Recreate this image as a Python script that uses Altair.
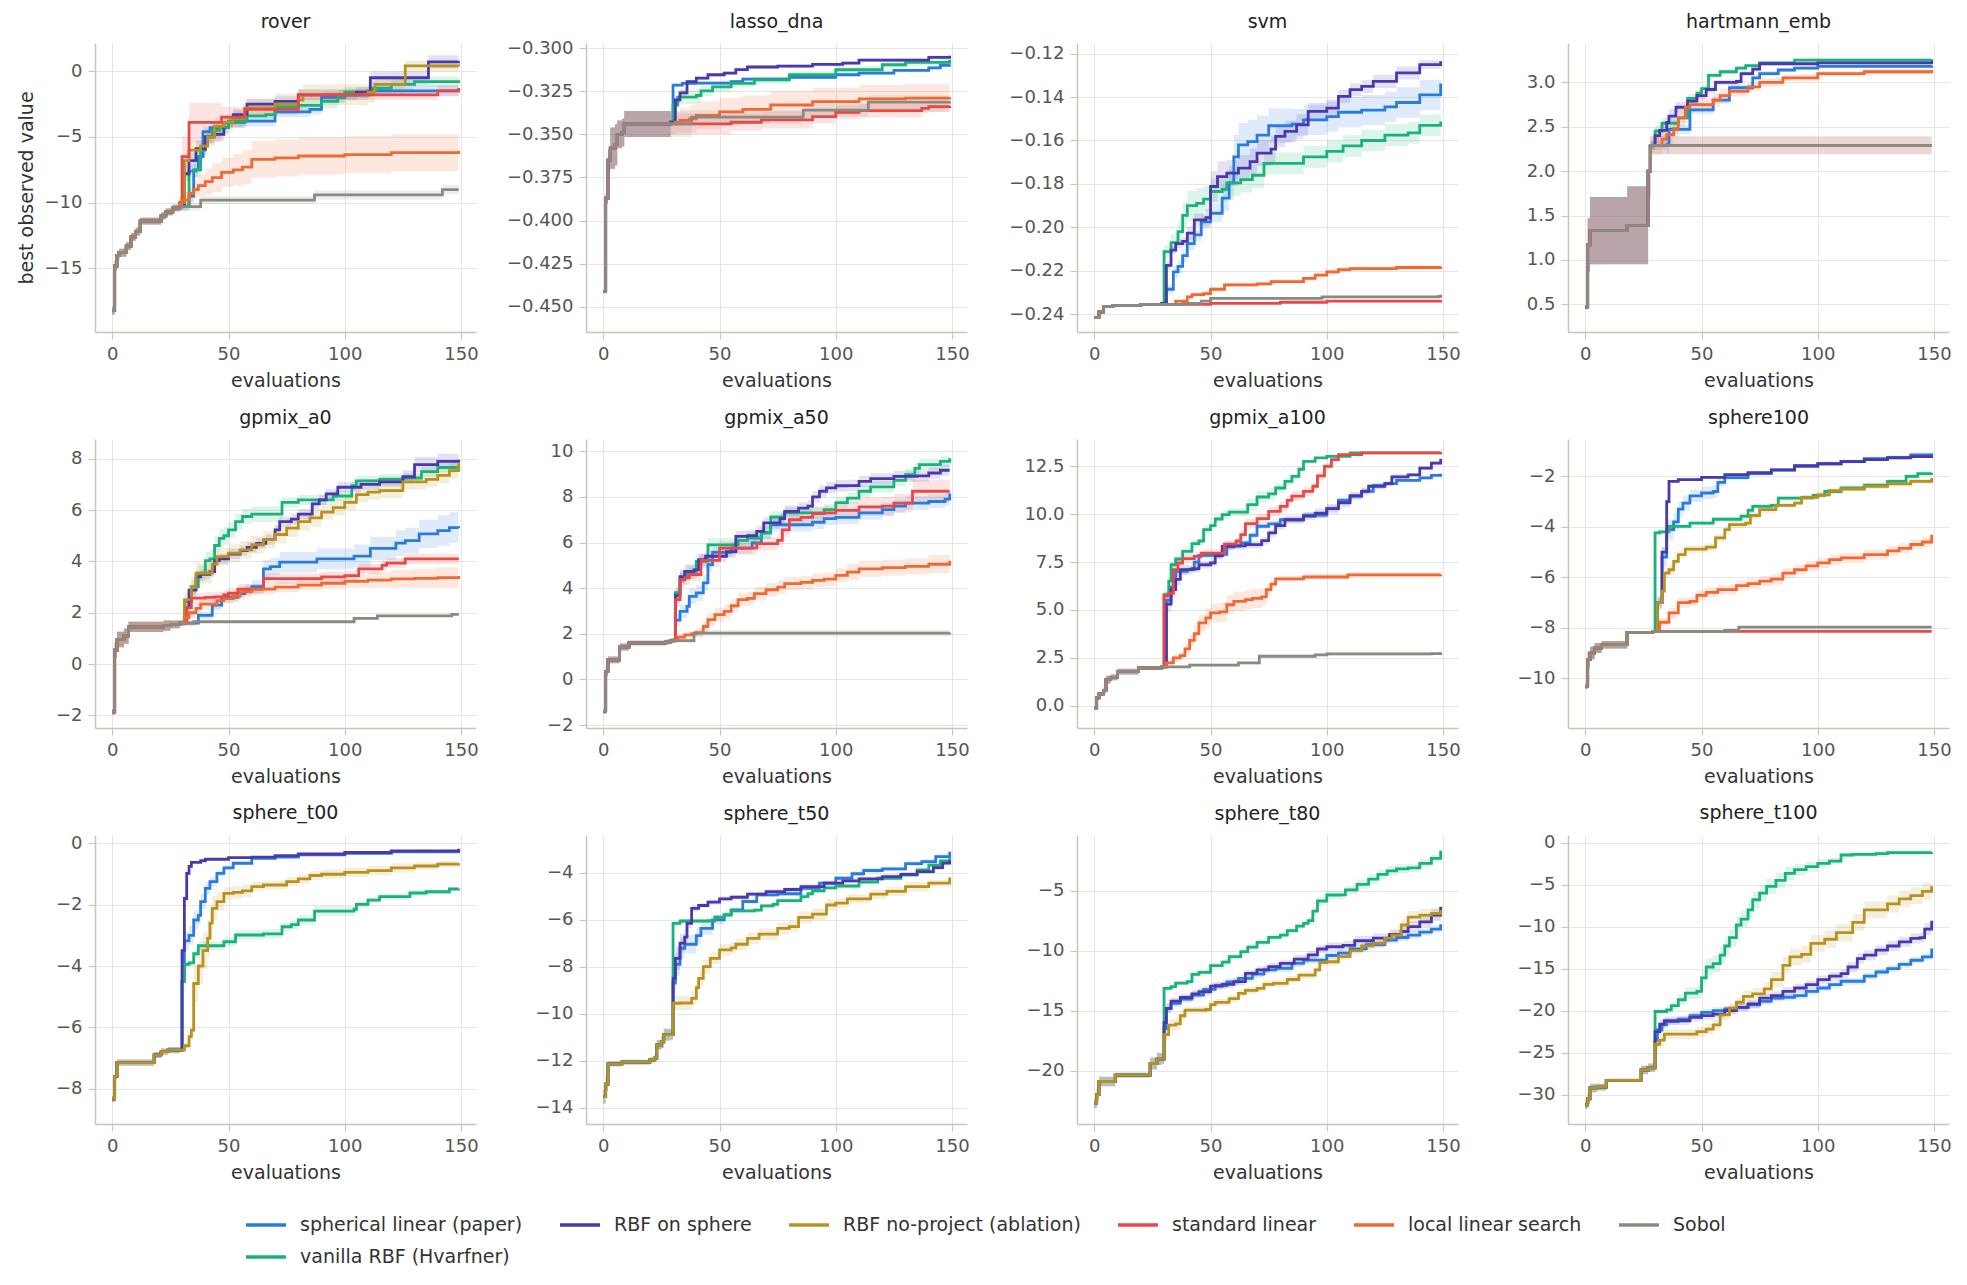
import altair as alt
import pandas as pd

PANELS = ["rover", "lasso_dna", "svm", "hartmann_emb",
          "gpmix_a0", "gpmix_a50", "gpmix_a100", "sphere100",
          "sphere_t00", "sphere_t50", "sphere_t80", "sphere_t100"]

NAMES = {"sph": "spherical linear (paper)", "van": "vanilla RBF (Hvarfner)",
         "rbf": "RBF on sphere", "nop": "RBF no-project (ablation)",
         "std": "standard linear", "loc": "local linear search", "sob": "Sobol"}
PLOT_ORDER = ["sph", "van", "rbf", "nop", "std", "loc", "sob"]
LEGEND_ORDER = ["sph", "rbf", "nop", "std", "loc", "sob", "van"]
COLORS = {"sph": "#2a7bde", "van": "#1ab27a", "rbf": "#4b38ac", "nop": "#b8921e",
          "std": "#e84848", "loc": "#f06832", "sob": "#8a8a84"}

# shared initial design segment per panel: [evaluation, mean, half-band]
INIT = {
    "rover": [[0, -18.2, 0.3], [1, -14.8, 0.4], [2, -14.0, 0.35], [3, -13.8, 0.3], [6, -13.3, 0.3],
              [8, -12.6, 0.3], [10, -12.2, 0.3], [12, -11.4, 0.25], [21, -11.0, 0.25], [23, -10.7, 0.25],
              [26, -10.4, 0.25]],
    "lasso_dna": [[0, -0.441, 0.001], [1, -0.387, 0.003], [2, -0.365, 0.006], [3, -0.358, 0.012],
                  [5, -0.356, 0.012], [6, -0.350, 0.008], [8, -0.349, 0.008], [9, -0.344, 0.0075]],
    "svm": [[0, -0.2415, 0.0005], [2, -0.239, 0.0005], [4, -0.2365, 0.0005], [8, -0.236, 0.0004],
            [20, -0.2355, 0.0004]],
    "hartmann_emb": [[0, 0.47, 0.02], [1, 1.17, 0.3], [2, 1.33, 0.38], [18, 1.39, 0.44], [27, 2.0, 0.3]],
    "gpmix_a0": [[0, -1.86, 0.1], [1, 0.54, 0.3], [2, 0.96, 0.3], [5, 1.09, 0.3], [7, 1.45, 0.2],
                 [22, 1.5, 0.2], [25, 1.55, 0.15]],
    "gpmix_a50": [[0, -1.4, 0.1], [1, 0.35, 0.2], [2, 0.86, 0.15], [7, 1.42, 0.15], [11, 1.6, 0.1],
                  [27, 1.65, 0.1]],
    "gpmix_a100": [[0, -0.12, 0.05], [1, 0.4, 0.1], [2, 0.61, 0.1], [4, 0.8, 0.15], [5, 1.36, 0.2],
                   [7, 1.48, 0.15], [10, 1.78, 0.15], [19, 1.97, 0.1]],
    "sphere100": [[0, -10.32, 0.1], [1, -9.26, 0.3], [2, -9.0, 0.25], [4, -8.8, 0.2], [7, -8.67, 0.15],
                  [18, -8.18, 0.05]],
    "sphere_t00": [[0, -8.34, 0.1], [1, -7.6, 0.1], [2, -7.15, 0.1], [18, -6.9, 0.1], [21, -6.79, 0.1],
                   [24, -6.74, 0.1]],
    "sphere_t50": [[0, -13.53, 0.3], [1, -13.0, 0.3], [2, -12.14, 0.1], [8, -12.07, 0.1], [20, -11.97, 0.1],
                   [22, -11.9, 0.15], [23, -11.33, 0.2], [25, -11.2, 0.25], [26, -10.9, 0.25]],
    "sphere_t80": [[0, -22.7, 0.4], [1, -22.0, 0.5], [2, -20.9, 0.4], [9, -20.36, 0.2], [24, -19.4, 0.5],
                   [27, -19.03, 0.5]],
    "sphere_t100": [[0, -31.2, 0.5], [1, -30.5, 0.6], [2, -29.2, 0.5], [5, -29.1, 0.4], [9, -28.3, 0.2],
                    [24, -27.06, 0.5], [27, -26.8, 0.5]],
}

ROVER = {
    "sob": [[29, -10.3, 0.3], [38, -9.8, 0.3], [87, -9.4, 0.35], [142, -9.0, 0.35], [149, -9.0, 0.35]],
    "loc": [[29, -10.0, 0.4], [30, -9.8, 0.5], [33, -9.3, 0.6], [35, -9.0, 0.7], [37, -8.7, 0.8], [40, -8.4, 1.0],
            [43, -8.1, 1.1], [47, -7.7, 1.1], [52, -7.5, 1.2], [56, -7.3, 1.3], [60, -6.7, 1.4], [70, -6.6, 1.4],
            [80, -6.45, 1.4], [100, -6.35, 1.4], [120, -6.2, 1.4], [149, -6.05, 1.4]],
    "std": [[29, -10.0, 0.5], [30, -6.5, 1.5], [33, -3.9, 1.5], [47, -3.5, 0.8], [57, -2.9, 0.4], [80, -1.8, 0.4],
            [140, -1.5, 0.4], [149, -1.3, 0.4]],
    "sph": [[29, -10.3, 0.3], [33, -9.5, 0.5], [35, -7.5, 0.6], [37, -6.5, 0.5], [39, -4.6, 0.4], [42, -4.3, 0.4],
            [50, -3.9, 0.4], [57, -3.8, 0.4], [70, -3.1, 0.4], [85, -2.9, 0.4], [90, -2.0, 0.4], [100, -1.8, 0.4],
            [110, -1.5, 0.4], [149, -1.3, 0.4]],
    "rbf": [[29, -10.3, 0.3], [31, -7.8, 0.6], [33, -6.8, 0.6], [36, -5.9, 0.6], [40, -5.0, 0.5], [44, -4.8, 0.5],
            [48, -3.9, 0.4], [52, -3.3, 0.4], [58, -2.5, 0.4], [70, -2.3, 0.4], [80, -1.8, 0.4], [105, -1.6, 0.4],
            [111, -0.5, 0.5], [136, 0.7, 0.5], [149, 0.75, 0.5]],
    "nop": [[29, -10.0, 0.4], [31, -6.8, 0.6], [33, -6.0, 0.7], [38, -5.7, 0.7], [41, -5.0, 0.7], [44, -4.2, 0.7],
            [48, -3.9, 0.6], [52, -3.6, 0.6], [57, -2.8, 0.7], [70, -2.5, 0.8], [80, -2.2, 0.8], [82, -1.8, 0.8],
            [110, -1.6, 0.8], [113, -1.0, 0.6], [126, 0.4, 0.4], [149, 0.35, 0.4]],
    "van": [[29, -10.3, 0.3], [33, -7.6, 0.5], [36, -7.5, 0.5], [38, -6.0, 0.6], [40, -5.0, 0.5], [43, -4.5, 0.5],
            [46, -4.3, 0.5], [50, -3.8, 0.4], [58, -3.4, 0.4], [66, -3.3, 0.4], [70, -2.7, 0.5], [80, -2.6, 0.5],
            [90, -2.3, 0.5], [97, -1.9, 0.5], [100, -1.6, 0.4], [112, -1.3, 0.4], [120, -1.0, 0.4], [130, -0.8, 0.4],
            [149, -0.7, 0.4]],
}

LASSO = {
    "sob": [[29, -0.344, 0.0075], [38, -0.340, 0.004], [86, -0.336, 0.004], [114, -0.3313, 0.004],
            [149, -0.331, 0.004]],
    "std": [[29, -0.344, 0.006], [55, -0.343, 0.005], [68, -0.3416, 0.005], [90, -0.3397, 0.004],
            [100, -0.3373, 0.004], [110, -0.3363, 0.004], [137, -0.335, 0.003], [140, -0.334, 0.003],
            [149, -0.3335, 0.003]],
    "loc": [[29, -0.344, 0.006], [31, -0.343, 0.006], [33, -0.342, 0.007], [37, -0.341, 0.008], [40, -0.339, 0.008],
            [50, -0.337, 0.008], [60, -0.3355, 0.008], [72, -0.333, 0.008], [90, -0.331, 0.008],
            [110, -0.3295, 0.008], [130, -0.329, 0.008], [149, -0.3285, 0.008]],
    "sph": [[29, -0.343, 0.001], [30, -0.3215, 0.001], [34, -0.3205, 0.001], [40, -0.3203, 0.001],
            [55, -0.3195, 0.001], [60, -0.318, 0.001], [80, -0.317, 0.001], [100, -0.3155, 0.001],
            [110, -0.3145, 0.001], [125, -0.313, 0.001], [140, -0.3115, 0.001], [145, -0.310, 0.001],
            [149, -0.3095, 0.001]],
    "rbf": [[29, -0.343, 0.001], [31, -0.330, 0.002], [33, -0.326, 0.002], [36, -0.3195, 0.001],
            [40, -0.3175, 0.001], [45, -0.3155, 0.001], [52, -0.3145, 0.001], [57, -0.3125, 0.001],
            [62, -0.311, 0.001], [75, -0.3105, 0.001], [90, -0.3095, 0.001], [103, -0.3087, 0.001],
            [110, -0.307, 0.001], [140, -0.3054, 0.001], [149, -0.3045, 0.001]],
    "van": [[29, -0.343, 0.001], [30, -0.333, 0.004], [32, -0.3285, 0.004], [40, -0.3275, 0.004],
            [42, -0.3248, 0.003], [47, -0.3225, 0.003], [55, -0.3205, 0.002], [65, -0.3185, 0.002],
            [80, -0.3155, 0.002], [100, -0.3126, 0.002], [120, -0.3097, 0.002], [130, -0.3083, 0.002],
            [149, -0.3068, 0.002]],
}

SVM = {
    "std": [[29, -0.2355, 0.0004], [50, -0.235, 0.0004], [80, -0.2345, 0.0004], [100, -0.234, 0.0004],
            [149, -0.2335, 0.0004]],
    "sob": [[29, -0.2355, 0.0004], [38, -0.235, 0.0004], [46, -0.234, 0.0005], [50, -0.2327, 0.0005],
            [98, -0.232, 0.0005], [148, -0.2318, 0.0005], [149, -0.231, 0.0005]],
    "loc": [[29, -0.2355, 0.0005], [35, -0.234, 0.0006], [40, -0.232, 0.0008], [42, -0.231, 0.001],
            [47, -0.2305, 0.001], [50, -0.2285, 0.001], [56, -0.2265, 0.001], [70, -0.226, 0.001],
            [76, -0.225, 0.001], [90, -0.2235, 0.001], [95, -0.222, 0.0012], [100, -0.2205, 0.0012],
            [105, -0.2195, 0.0012], [110, -0.219, 0.001], [130, -0.2185, 0.001], [149, -0.218, 0.001]],
    "van": [[29, -0.235, 0.001], [30, -0.2112, 0.003], [33, -0.207, 0.004], [36, -0.202, 0.005],
            [38, -0.1945, 0.006], [40, -0.190, 0.007], [44, -0.189, 0.007], [47, -0.187, 0.006],
            [50, -0.1835, 0.006], [55, -0.1825, 0.006], [57, -0.1795, 0.006], [63, -0.178, 0.006],
            [68, -0.176, 0.006], [73, -0.1705, 0.005], [80, -0.1705, 0.005], [90, -0.1675, 0.005],
            [100, -0.165, 0.005], [107, -0.1625, 0.005], [115, -0.160, 0.005], [125, -0.1575, 0.005],
            [135, -0.1565, 0.005], [140, -0.153, 0.005], [149, -0.1512, 0.005]],
    "sph": [[29, -0.235, 0.001], [31, -0.2285, 0.002], [34, -0.2205, 0.003], [36, -0.218, 0.003],
            [38, -0.213, 0.003], [40, -0.2075, 0.003], [43, -0.2035, 0.003], [46, -0.1975, 0.003],
            [50, -0.1935, 0.004], [55, -0.1865, 0.006], [58, -0.1795, 0.008], [60, -0.1675, 0.01],
            [62, -0.162, 0.01], [66, -0.1605, 0.01], [70, -0.1575, 0.009], [75, -0.1532, 0.008],
            [85, -0.1525, 0.007], [90, -0.1505, 0.007], [100, -0.149, 0.007], [105, -0.147, 0.007],
            [115, -0.146, 0.007], [125, -0.1445, 0.007], [130, -0.1425, 0.007], [140, -0.139, 0.007],
            [149, -0.1338, 0.007]],
    "rbf": [[29, -0.235, 0.001], [31, -0.2175, 0.002], [33, -0.2105, 0.002], [35, -0.2075, 0.002],
            [38, -0.2065, 0.002], [40, -0.2027, 0.003], [43, -0.1966, 0.003], [48, -0.1955, 0.004],
            [50, -0.1812, 0.007], [53, -0.1766, 0.007], [57, -0.175, 0.006], [62, -0.1727, 0.006],
            [67, -0.1697, 0.006], [70, -0.1658, 0.006], [76, -0.164, 0.006], [78, -0.1581, 0.005],
            [82, -0.1558, 0.005], [87, -0.1528, 0.005], [92, -0.1466, 0.004], [100, -0.1451, 0.004],
            [105, -0.1397, 0.003], [110, -0.1366, 0.003], [115, -0.1351, 0.003], [120, -0.1328, 0.003],
            [130, -0.1289, 0.003], [140, -0.1251, 0.002], [149, -0.1235, 0.002]],
}

HARTMANN = {
    "sob": [[28, 2.29, 0.1], [149, 2.29, 0.1]],
    "std": [[28, 2.29, 0.1], [149, 2.29, 0.1]],
    "loc": [[28, 2.29, 0.1], [33, 2.36, 0.1], [35, 2.41, 0.1], [38, 2.48, 0.1], [40, 2.6, 0.1], [43, 2.72, 0.08],
            [45, 2.75, 0.08], [55, 2.8, 0.08], [58, 2.85, 0.08], [62, 2.9, 0.06], [70, 2.95, 0.05], [75, 3.0, 0.05],
            [85, 3.05, 0.04], [100, 3.1, 0.03], [120, 3.12, 0.03], [149, 3.14, 0.03]],
    "sph": [[28, 2.29, 0.05], [35, 2.3, 0.1], [36, 2.47, 0.05], [45, 2.69, 0.05], [55, 2.8, 0.04], [62, 2.94, 0.04],
            [72, 3.05, 0.03], [75, 3.1, 0.03], [83, 3.14, 0.02], [90, 3.16, 0.02], [100, 3.18, 0.02],
            [149, 3.19, 0.02]],
    "rbf": [[28, 2.29, 0.05], [30, 2.4, 0.08], [32, 2.46, 0.08], [35, 2.55, 0.08], [36, 2.62, 0.08],
            [39, 2.72, 0.06], [44, 2.79, 0.05], [48, 2.85, 0.04], [52, 2.92, 0.04], [56, 3.0, 0.03],
            [65, 3.01, 0.03], [67, 3.1, 0.03], [72, 3.15, 0.03], [75, 3.21, 0.02], [100, 3.22, 0.02],
            [149, 3.24, 0.02]],
    "van": [[28, 2.29, 0.05], [30, 2.45, 0.06], [33, 2.54, 0.06], [40, 2.6, 0.06], [44, 2.82, 0.05],
            [48, 2.88, 0.04], [50, 2.93, 0.04], [53, 3.08, 0.03], [58, 3.12, 0.03], [65, 3.16, 0.03],
            [69, 3.19, 0.02], [75, 3.22, 0.02], [90, 3.25, 0.02], [149, 3.26, 0.02]],
}

GPMIX0 = {
    "sob": [[29, 1.6, 0.1], [35, 1.65, 0.05], [104, 1.78, 0.05], [114, 1.88, 0.05], [146, 1.94, 0.05],
            [149, 1.94, 0.05]],
    "loc": [[29, 1.6, 0.1], [31, 1.8, 0.15], [33, 2.0, 0.2], [36, 2.17, 0.2], [38, 2.34, 0.2], [45, 2.47, 0.2],
            [48, 2.55, 0.2], [52, 2.65, 0.2], [55, 2.82, 0.2], [60, 2.92, 0.2], [70, 3.0, 0.2], [80, 3.08, 0.2],
            [90, 3.15, 0.22], [100, 3.22, 0.25], [110, 3.27, 0.3], [120, 3.32, 0.35], [130, 3.34, 0.38],
            [140, 3.37, 0.4], [149, 3.43, 0.42]],
    "std": [[29, 1.6, 0.1], [32, 2.2, 0.2], [34, 2.57, 0.2], [40, 2.6, 0.2], [44, 2.62, 0.2], [48, 2.7, 0.2],
            [50, 2.76, 0.2], [54, 2.92, 0.2], [65, 3.33, 0.2], [90, 3.4, 0.2], [100, 3.45, 0.2], [106, 3.71, 0.2],
            [116, 3.85, 0.2], [118, 3.93, 0.2], [126, 4.1, 0.2], [149, 4.1, 0.2]],
    "sph": [[29, 1.6, 0.1], [37, 1.9, 0.15], [43, 2.3, 0.2], [47, 2.6, 0.2], [54, 2.75, 0.2], [57, 2.9, 0.2],
            [60, 3.02, 0.25], [65, 3.71, 0.35], [68, 3.8, 0.35], [72, 3.97, 0.4], [88, 4.1, 0.4], [104, 4.21, 0.45],
            [111, 4.51, 0.45], [122, 4.71, 0.5], [126, 4.81, 0.5], [132, 5.07, 0.55], [140, 5.2, 0.6],
            [145, 5.32, 0.6], [149, 5.3, 0.6]],
    "van": [[29, 1.6, 0.1], [31, 2.43, 0.2], [34, 3.02, 0.25], [37, 3.54, 0.3], [40, 4.03, 0.35], [42, 4.1, 0.35],
            [44, 4.62, 0.35], [46, 4.9, 0.35], [48, 5.0, 0.35], [50, 5.23, 0.3], [53, 5.55, 0.3], [56, 5.75, 0.3],
            [60, 5.84, 0.3], [73, 6.3, 0.2], [80, 6.4, 0.2], [95, 6.55, 0.2], [103, 6.95, 0.2], [105, 7.14, 0.2],
            [115, 7.2, 0.2], [125, 7.25, 0.2], [133, 7.5, 0.2], [140, 7.66, 0.2], [149, 7.7, 0.2]],
    "rbf": [[29, 1.6, 0.1], [31, 2.2, 0.2], [33, 2.88, 0.2], [36, 3.4, 0.2], [38, 3.5, 0.2], [42, 3.6, 0.2],
            [44, 4.03, 0.2], [46, 4.1, 0.2], [50, 4.29, 0.2], [55, 4.42, 0.2], [58, 4.55, 0.2], [62, 4.7, 0.2],
            [66, 4.85, 0.2], [70, 5.23, 0.2], [72, 5.55, 0.2], [77, 5.65, 0.2], [80, 5.84, 0.2], [86, 6.24, 0.2],
            [89, 6.4, 0.2], [92, 6.63, 0.2], [97, 6.89, 0.2], [107, 7.0, 0.2], [115, 7.1, 0.2], [125, 7.3, 0.25],
            [130, 7.77, 0.3], [140, 7.9, 0.3], [149, 7.96, 0.3]],
    "nop": [[29, 1.6, 0.1], [31, 2.5, 0.3], [34, 3.0, 0.35], [36, 3.54, 0.4], [40, 3.55, 0.4], [43, 3.9, 0.4],
            [45, 4.19, 0.35], [50, 4.32, 0.35], [55, 4.45, 0.35], [60, 4.65, 0.35], [65, 4.85, 0.35],
            [70, 5.05, 0.35], [75, 5.3, 0.35], [80, 5.55, 0.35], [85, 5.7, 0.35], [90, 5.92, 0.3], [95, 6.1, 0.3],
            [100, 6.3, 0.3], [105, 6.6, 0.3], [110, 6.7, 0.3], [115, 6.76, 0.3], [125, 7.1, 0.3], [135, 7.2, 0.3],
            [140, 7.35, 0.3], [145, 7.54, 0.3], [149, 7.83, 0.3]],
}

GPMIX50 = {
    "sob": [[29, 1.7, 0.1], [39, 2.03, 0.15], [149, 2.05, 0.15]],
    "loc": [[29, 1.7, 0.1], [32, 1.85, 0.15], [35, 1.95, 0.15], [38, 2.0, 0.15], [40, 2.05, 0.2], [43, 2.32, 0.25],
            [45, 2.62, 0.3], [48, 2.84, 0.3], [52, 2.98, 0.3], [55, 3.23, 0.3], [58, 3.5, 0.3], [62, 3.55, 0.3],
            [65, 3.76, 0.3], [70, 3.93, 0.3], [75, 4.05, 0.3], [78, 4.2, 0.3], [85, 4.25, 0.3], [90, 4.34, 0.3],
            [95, 4.4, 0.3], [100, 4.56, 0.3], [105, 4.7, 0.35], [110, 4.85, 0.35], [120, 4.9, 0.35],
            [130, 4.96, 0.35], [140, 5.05, 0.4], [149, 5.2, 0.45]],
    "sph": [[29, 1.7, 0.1], [31, 2.6, 0.3], [33, 2.98, 0.3], [36, 3.2, 0.35], [37, 3.64, 0.35], [40, 3.79, 0.35],
            [43, 4.23, 0.35], [45, 5.03, 0.3], [47, 5.57, 0.25], [55, 5.76, 0.25], [64, 5.98, 0.25],
            [68, 6.45, 0.3], [72, 6.78, 0.3], [90, 6.89, 0.3], [95, 7.05, 0.3], [100, 7.1, 0.3], [110, 7.3, 0.3],
            [120, 7.44, 0.3], [125, 7.6, 0.3], [130, 7.73, 0.3], [140, 7.8, 0.3], [147, 7.9, 0.3],
            [149, 8.15, 0.3]],
    "std": [[29, 1.7, 0.1], [31, 3.5, 0.3], [33, 4.37, 0.3], [35, 4.45, 0.3], [37, 4.6, 0.3], [42, 5.22, 0.3],
            [50, 5.76, 0.3], [66, 5.95, 0.3], [75, 6.1, 0.3], [77, 6.56, 0.3], [80, 7.0, 0.3], [85, 7.1, 0.3],
            [90, 7.27, 0.3], [95, 7.3, 0.3], [100, 7.41, 0.35], [110, 7.56, 0.4], [120, 7.6, 0.4],
            [125, 7.73, 0.4], [133, 8.25, 0.5], [149, 8.25, 0.5]],
    "van": [[29, 1.7, 0.1], [31, 3.8, 0.3], [33, 4.44, 0.3], [36, 4.7, 0.3], [40, 5.18, 0.3], [45, 5.9, 0.3],
            [58, 6.1, 0.25], [62, 6.2, 0.25], [68, 6.42, 0.25], [72, 7.12, 0.25], [78, 7.3, 0.25], [90, 7.3, 0.25],
            [95, 7.44, 0.25], [100, 7.75, 0.25], [105, 7.95, 0.25], [110, 8.25, 0.25], [115, 8.44, 0.25],
            [125, 8.73, 0.25], [130, 8.98, 0.25], [134, 9.25, 0.25], [136, 9.42, 0.25], [145, 9.56, 0.25],
            [149, 9.7, 0.25]],
    "rbf": [[29, 1.7, 0.1], [31, 3.67, 0.3], [33, 4.5, 0.3], [35, 4.74, 0.3], [39, 4.8, 0.3], [41, 5.25, 0.25],
            [44, 5.4, 0.25], [53, 5.6, 0.25], [57, 6.27, 0.25], [62, 6.3, 0.25], [66, 6.49, 0.25],
            [69, 6.86, 0.25], [76, 7.05, 0.25], [78, 7.37, 0.25], [84, 7.51, 0.25], [88, 7.6, 0.25],
            [90, 8.0, 0.25], [93, 8.25, 0.25], [96, 8.4, 0.25], [100, 8.49, 0.25], [105, 8.5, 0.25],
            [110, 8.68, 0.25], [115, 8.8, 0.25], [125, 8.9, 0.25], [135, 8.92, 0.25], [140, 9.05, 0.25],
            [145, 9.17, 0.25], [149, 9.17, 0.25]],
}

GPMIX100 = {
    "sob": [[29, 2.02, 0.05], [41, 2.12, 0.08], [62, 2.23, 0.08], [71, 2.58, 0.08], [95, 2.65, 0.08],
            [100, 2.7, 0.08], [145, 2.72, 0.08], [149, 2.79, 0.08]],
    "loc": [[29, 2.02, 0.1], [31, 2.23, 0.15], [34, 2.49, 0.2], [37, 2.61, 0.2], [39, 2.96, 0.25], [41, 3.41, 0.3],
            [43, 3.76, 0.4], [45, 4.32, 0.45], [48, 4.58, 0.5], [50, 4.84, 0.5], [54, 4.9, 0.5], [57, 5.27, 0.5],
            [60, 5.45, 0.5], [65, 5.54, 0.5], [68, 5.6, 0.5], [72, 5.68, 0.45], [74, 6.06, 0.3], [76, 6.35, 0.2],
            [78, 6.62, 0.15], [90, 6.72, 0.15], [109, 6.83, 0.15], [149, 6.85, 0.15]],
    "std": [[29, 2.02, 0.1], [30, 5.74, 0.2], [32, 5.88, 0.2], [34, 7.1, 0.2], [36, 7.45, 0.2], [38, 7.68, 0.2],
            [43, 7.8, 0.2], [46, 7.97, 0.2], [56, 8.44, 0.2], [61, 8.6, 0.2], [63, 8.93, 0.25], [65, 9.51, 0.25],
            [70, 9.77, 0.25], [75, 10.15, 0.25], [80, 10.41, 0.25], [83, 10.72, 0.25], [85, 10.95, 0.25],
            [90, 11.19, 0.25], [94, 11.46, 0.2], [96, 12.0, 0.2], [99, 12.5, 0.15], [102, 12.85, 0.1],
            [105, 13.11, 0.05], [115, 13.2, 0.05], [149, 13.23, 0.05]],
    "van": [[29, 2.02, 0.1], [30, 5.8, 0.2], [32, 6.5, 0.2], [33, 7.36, 0.2], [35, 7.66, 0.2], [38, 8.06, 0.2],
            [42, 8.46, 0.2], [45, 8.6, 0.2], [47, 9.19, 0.2], [50, 9.4, 0.2], [52, 9.75, 0.2], [55, 9.98, 0.2],
            [58, 10.11, 0.2], [66, 10.5, 0.3], [70, 10.9, 0.3], [75, 11.06, 0.3], [78, 11.37, 0.25],
            [82, 11.72, 0.2], [85, 11.98, 0.15], [88, 12.35, 0.1], [90, 12.76, 0.1], [95, 12.94, 0.05],
            [100, 13.02, 0.05], [110, 13.2, 0.05], [149, 13.25, 0.05]],
    "sph": [[29, 2.02, 0.1], [31, 5.5, 0.3], [33, 6.2, 0.3], [35, 7.02, 0.2], [40, 7.1, 0.15], [43, 7.5, 0.15],
            [45, 7.85, 0.15], [55, 7.9, 0.15], [57, 8.29, 0.15], [60, 8.35, 0.15], [63, 8.5, 0.15], [67, 8.9, 0.15],
            [70, 9.37, 0.15], [75, 9.5, 0.15], [80, 9.71, 0.15], [90, 9.95, 0.15], [100, 10.29, 0.15],
            [105, 10.72, 0.15], [110, 10.93, 0.15], [115, 11.2, 0.15], [120, 11.49, 0.15], [125, 11.6, 0.1],
            [130, 11.77, 0.1], [140, 11.9, 0.1], [145, 12.03, 0.1], [149, 12.12, 0.1]],
    "rbf": [[29, 2.02, 0.1], [31, 5.3, 0.4], [33, 6.06, 0.4], [35, 6.6, 0.3], [37, 7.1, 0.25], [42, 7.15, 0.2],
            [45, 7.36, 0.2], [50, 7.45, 0.2], [52, 7.83, 0.2], [55, 8.32, 0.2], [60, 8.35, 0.2], [65, 8.41, 0.2],
            [72, 8.62, 0.2], [75, 9.02, 0.2], [78, 9.4, 0.2], [82, 9.71, 0.2], [90, 9.9, 0.2], [95, 10.05, 0.25],
            [100, 10.29, 0.25], [105, 10.6, 0.25], [110, 10.97, 0.2], [115, 11.19, 0.2], [118, 11.46, 0.15],
            [125, 11.6, 0.15], [128, 11.95, 0.15], [135, 12.06, 0.1], [140, 12.41, 0.1], [145, 12.67, 0.1],
            [149, 12.9, 0.1]],
}

SPHERE100 = {
    "std": [[29, -8.14, 0.05], [149, -8.14, 0.05]],
    "sob": [[29, -8.14, 0.05], [60, -8.1, 0.05], [66, -7.97, 0.05], [149, -7.97, 0.05]],
    "loc": [[29, -8.14, 0.05], [32, -7.78, 0.15], [36, -7.41, 0.2], [40, -7.0, 0.2], [45, -6.95, 0.2],
            [48, -6.71, 0.2], [52, -6.6, 0.2], [57, -6.49, 0.2], [65, -6.33, 0.2], [70, -6.25, 0.2],
            [75, -6.15, 0.2], [80, -6.07, 0.2], [85, -5.83, 0.2], [90, -5.7, 0.2], [95, -5.55, 0.2],
            [100, -5.43, 0.2], [105, -5.3, 0.2], [110, -5.23, 0.2], [120, -5.1, 0.2], [130, -4.95, 0.2],
            [135, -4.85, 0.2], [140, -4.7, 0.2], [145, -4.6, 0.2], [149, -4.31, 0.2]],
    "nop": [[29, -8.14, 0.05], [31, -7.0, 0.2], [33, -6.55, 0.2], [34, -5.83, 0.2], [36, -5.7, 0.2],
            [38, -5.37, 0.15], [40, -5.1, 0.15], [43, -4.88, 0.15], [52, -4.8, 0.15], [56, -4.44, 0.15],
            [60, -4.11, 0.15], [62, -3.91, 0.15], [69, -3.85, 0.15], [71, -3.55, 0.15], [75, -3.32, 0.15],
            [82, -3.15, 0.1], [90, -3.06, 0.1], [93, -2.83, 0.1], [100, -2.73, 0.1], [105, -2.57, 0.1],
            [110, -2.5, 0.1], [120, -2.4, 0.1], [130, -2.3, 0.1], [140, -2.2, 0.1], [149, -2.07, 0.1]],
    "van": [[29, -8.14, 0.05], [30, -4.24, 0.1], [32, -4.2, 0.1], [36, -3.98, 0.1], [45, -3.85, 0.1],
            [55, -3.7, 0.1], [67, -3.58, 0.1], [70, -3.35, 0.1], [72, -3.19, 0.1], [80, -3.15, 0.1],
            [83, -2.86, 0.1], [93, -2.85, 0.1], [98, -2.75, 0.1], [103, -2.6, 0.1], [110, -2.46, 0.1],
            [120, -2.35, 0.1], [130, -2.2, 0.1], [138, -2.0, 0.1], [143, -1.89, 0.1], [149, -1.87, 0.1]],
    "sph": [[29, -8.14, 0.05], [31, -7.0, 0.3], [33, -5.2, 0.4], [35, -4.11, 0.4], [38, -3.8, 0.35],
            [40, -3.3, 0.3], [42, -3.06, 0.3], [45, -2.77, 0.25], [50, -2.66, 0.25], [55, -2.6, 0.25],
            [57, -2.24, 0.15], [60, -2.05, 0.1], [70, -1.89, 0.08], [80, -1.75, 0.08], [90, -1.6, 0.08],
            [100, -1.5, 0.08], [110, -1.41, 0.08], [120, -1.3, 0.08], [130, -1.25, 0.08], [140, -1.15, 0.08],
            [149, -1.08, 0.08]],
    "rbf": [[29, -8.14, 0.05], [31, -7.0, 0.2], [33, -5.0, 0.2], [35, -3.0, 0.1], [36, -2.2, 0.05],
            [40, -2.13, 0.05], [50, -2.04, 0.05], [60, -1.93, 0.05], [70, -1.85, 0.05], [80, -1.74, 0.05],
            [90, -1.58, 0.05], [100, -1.5, 0.05], [110, -1.42, 0.05], [120, -1.34, 0.05], [130, -1.27, 0.05],
            [140, -1.22, 0.05], [149, -1.18, 0.05]],
}

SPHERE_T00 = {
    "van": [[29, -6.74, 0.05], [30, -4.5, 0.1], [31, -3.95, 0.1], [33, -3.9, 0.1], [35, -3.6, 0.15],
            [37, -3.34, 0.15], [48, -3.21, 0.15], [53, -2.99, 0.15], [65, -2.95, 0.15], [73, -2.72, 0.15],
            [77, -2.65, 0.15], [80, -2.5, 0.15], [87, -2.21, 0.15], [104, -2.15, 0.1], [105, -1.99, 0.1],
            [110, -1.85, 0.1], [115, -1.74, 0.1], [128, -1.62, 0.1], [135, -1.58, 0.1], [145, -1.49, 0.05],
            [149, -1.48, 0.05]],
    "nop": [[29, -6.74, 0.05], [31, -6.6, 0.1], [33, -6.3, 0.15], [34, -6.09, 0.2], [35, -4.57, 0.6],
            [37, -4.0, 0.6], [39, -3.5, 0.6], [41, -3.1, 0.6], [42, -2.6, 0.5], [43, -2.12, 0.4], [45, -1.9, 0.3],
            [48, -1.63, 0.2], [52, -1.6, 0.2], [56, -1.55, 0.2], [60, -1.41, 0.15], [65, -1.36, 0.15],
            [75, -1.25, 0.15], [80, -1.16, 0.15], [85, -1.05, 0.15], [90, -1.01, 0.15], [100, -0.95, 0.15],
            [110, -0.89, 0.15], [120, -0.8, 0.15], [130, -0.74, 0.12], [140, -0.68, 0.1], [149, -0.65, 0.1]],
    "sph": [[29, -6.74, 0.05], [30, -4.5, 0.3], [31, -3.18, 0.3], [33, -3.0, 0.3], [35, -2.5, 0.3],
            [37, -2.35, 0.3], [38, -1.9, 0.25], [40, -1.47, 0.2], [42, -1.25, 0.15], [45, -0.98, 0.1],
            [48, -0.8, 0.08], [52, -0.65, 0.05], [60, -0.49, 0.04], [70, -0.45, 0.03], [80, -0.38, 0.03],
            [100, -0.33, 0.03], [120, -0.28, 0.03], [149, -0.24, 0.03]],
    "rbf": [[29, -6.74, 0.05], [30, -3.5, 0.1], [31, -1.8, 0.1], [32, -0.98, 0.05], [33, -0.75, 0.05],
            [34, -0.62, 0.03], [38, -0.57, 0.03], [40, -0.52, 0.03], [50, -0.47, 0.03], [60, -0.45, 0.03],
            [70, -0.4, 0.03], [80, -0.35, 0.03], [100, -0.3, 0.03], [120, -0.25, 0.03], [149, -0.18, 0.03]],
}

SPHERE_T50 = {
    "van": [[29, -10.9, 0.2], [30, -6.16, 0.1], [33, -6.06, 0.1], [45, -6.05, 0.1], [48, -5.9, 0.1],
            [52, -5.8, 0.1], [55, -5.63, 0.1], [65, -5.6, 0.1], [68, -5.42, 0.1], [73, -5.35, 0.1],
            [75, -5.19, 0.1], [85, -5.02, 0.1], [88, -4.9, 0.1], [90, -4.78, 0.1], [95, -4.65, 0.1],
            [100, -4.57, 0.1], [110, -4.4, 0.1], [118, -4.24, 0.1], [128, -4.1, 0.1], [135, -3.89, 0.1],
            [140, -3.68, 0.1], [145, -3.5, 0.1], [149, -3.39, 0.1]],
    "nop": [[29, -10.9, 0.2], [30, -9.56, 0.3], [33, -9.55, 0.3], [38, -9.35, 0.3], [40, -8.9, 0.3],
            [41, -8.5, 0.3], [43, -8.0, 0.3], [46, -7.65, 0.25], [50, -7.29, 0.25], [55, -7.2, 0.25],
            [57, -7.05, 0.25], [62, -6.8, 0.25], [67, -6.62, 0.25], [75, -6.37, 0.25], [80, -6.3, 0.25],
            [84, -5.91, 0.25], [90, -5.77, 0.25], [96, -5.38, 0.25], [100, -5.3, 0.2], [105, -5.12, 0.2],
            [115, -4.92, 0.2], [122, -4.8, 0.2], [130, -4.6, 0.2], [140, -4.45, 0.15], [149, -4.21, 0.15]],
    "sph": [[29, -10.9, 0.2], [30, -8.7, 0.5], [31, -7.9, 0.5], [33, -7.22, 0.45], [35, -7.05, 0.4],
            [40, -6.68, 0.35], [42, -6.37, 0.3], [47, -6.01, 0.2], [52, -5.8, 0.15], [55, -5.59, 0.1],
            [60, -5.23, 0.1], [66, -4.95, 0.1], [75, -4.9, 0.1], [85, -4.67, 0.1], [93, -4.45, 0.1],
            [100, -4.24, 0.1], [107, -4.05, 0.1], [112, -3.91, 0.1], [120, -3.84, 0.1], [130, -3.62, 0.1],
            [137, -3.53, 0.1], [143, -3.32, 0.1], [149, -3.11, 0.1]],
    "rbf": [[29, -10.9, 0.2], [30, -8.5, 0.5], [31, -7.65, 0.5], [33, -7.0, 0.4], [35, -6.75, 0.35],
            [36, -6.16, 0.2], [38, -5.52, 0.15], [41, -5.4, 0.1], [45, -5.26, 0.1], [50, -5.12, 0.1],
            [55, -5.05, 0.1], [62, -4.92, 0.1], [70, -4.81, 0.1], [78, -4.72, 0.1], [85, -4.6, 0.1],
            [95, -4.45, 0.1], [103, -4.35, 0.1], [110, -4.27, 0.1], [120, -4.17, 0.1], [128, -4.08, 0.1],
            [135, -3.96, 0.1], [142, -3.79, 0.1], [146, -3.6, 0.1], [149, -3.46, 0.1]],
}

SPHERE_T80 = {
    "van": [[29, -19.03, 0.4], [30, -13.14, 0.2], [33, -13.0, 0.2], [35, -12.7, 0.2], [40, -12.58, 0.2],
            [42, -11.97, 0.25], [45, -11.8, 0.25], [50, -11.25, 0.25], [55, -10.95, 0.25], [58, -10.5, 0.25],
            [63, -10.08, 0.25], [66, -9.7, 0.25], [70, -9.31, 0.25], [75, -8.89, 0.25], [80, -8.7, 0.25],
            [83, -8.33, 0.25], [87, -7.95, 0.25], [90, -7.72, 0.25], [92, -7.5, 0.3], [94, -6.7, 0.35],
            [96, -5.86, 0.35], [100, -5.36, 0.35], [106, -5.35, 0.35], [108, -4.94, 0.35], [113, -4.47, 0.4],
            [118, -4.03, 0.4], [122, -3.64, 0.4], [126, -3.35, 0.4], [130, -3.19, 0.4], [135, -3.1, 0.35],
            [140, -2.72, 0.35], [145, -2.31, 0.3], [149, -1.67, 0.3]],
    "nop": [[29, -19.03, 0.4], [30, -17.0, 0.5], [32, -16.2, 0.5], [35, -16.1, 0.5], [37, -15.42, 0.4],
            [39, -14.95, 0.3], [48, -14.9, 0.3], [50, -14.5, 0.3], [52, -14.3, 0.3], [58, -14.0, 0.3],
            [62, -13.56, 0.3], [65, -13.3, 0.3], [70, -13.14, 0.3], [73, -12.8, 0.3], [77, -12.72, 0.3],
            [83, -12.4, 0.3], [88, -12.03, 0.3], [95, -11.6, 0.3], [97, -11.0, 0.3], [100, -10.92, 0.3],
            [105, -10.5, 0.3], [110, -10.0, 0.3], [115, -9.6, 0.3], [120, -9.39, 0.3], [125, -8.97, 0.3],
            [128, -8.7, 0.4], [132, -7.86, 0.5], [135, -7.2, 0.5], [140, -7.03, 0.5], [145, -6.9, 0.5],
            [149, -6.61, 0.5]],
    "sph": [[29, -19.03, 0.4], [30, -16.5, 0.5], [31, -14.8, 0.4], [33, -14.39, 0.3], [37, -14.03, 0.3],
            [42, -13.69, 0.3], [47, -13.22, 0.3], [52, -12.9, 0.3], [57, -12.6, 0.3], [62, -12.31, 0.3],
            [68, -11.95, 0.3], [73, -11.6, 0.3], [78, -11.47, 0.3], [85, -11.05, 0.3], [90, -10.78, 0.3],
            [100, -10.4, 0.3], [105, -10.2, 0.3], [110, -9.85, 0.3], [117, -9.5, 0.3], [125, -9.11, 0.3],
            [130, -8.9, 0.3], [135, -8.7, 0.3], [140, -8.45, 0.3], [145, -8.2, 0.3], [149, -7.8, 0.3]],
    "rbf": [[29, -19.03, 0.4], [30, -16.0, 0.5], [31, -14.8, 0.4], [33, -14.2, 0.3], [37, -13.9, 0.3],
            [42, -13.6, 0.3], [45, -13.42, 0.3], [50, -12.95, 0.3], [55, -12.8, 0.3], [60, -12.58, 0.3],
            [65, -11.89, 0.3], [70, -11.6, 0.3], [75, -11.33, 0.3], [80, -11.05, 0.3], [86, -10.7, 0.35],
            [92, -10.35, 0.35], [96, -9.86, 0.35], [100, -9.67, 0.35], [107, -9.55, 0.35], [112, -9.17, 0.4],
            [120, -8.95, 0.4], [127, -8.64, 0.4], [132, -8.4, 0.4], [135, -8.0, 0.45], [140, -7.6, 0.5],
            [145, -7.03, 0.5], [149, -6.33, 0.5]],
}

SPHERE_T100 = {
    "van": [[29, -26.8, 0.5], [30, -20.1, 0.3], [35, -19.9, 0.4], [37, -19.4, 0.5], [40, -18.7, 0.6],
            [43, -17.9, 0.7], [48, -17.7, 0.8], [50, -16.1, 0.9], [52, -14.8, 1.0], [55, -14.4, 1.0],
            [58, -13.4, 1.0], [60, -12.3, 1.0], [62, -11.3, 1.0], [65, -9.8, 1.0], [67, -9.1, 1.0],
            [70, -8.0, 1.0], [72, -6.8, 1.0], [75, -6.0, 1.0], [78, -5.2, 0.9], [82, -4.5, 0.9],
            [86, -3.65, 0.8], [90, -3.2, 0.7], [95, -2.86, 0.6], [100, -2.46, 0.5], [105, -2.2, 0.4],
            [110, -1.47, 0.3], [115, -1.4, 0.3], [125, -1.3, 0.3], [130, -1.19, 0.3], [149, -1.15, 0.3]],
    "nop": [[29, -26.8, 0.5], [30, -24.0, 0.8], [32, -23.5, 0.8], [34, -22.8, 0.6], [45, -22.8, 0.6],
            [48, -22.5, 0.6], [52, -22.2, 0.6], [55, -21.7, 0.6], [58, -20.5, 0.6], [62, -19.7, 0.6],
            [65, -19.0, 0.6], [68, -18.3, 0.7], [72, -18.0, 0.7], [77, -17.4, 0.8], [80, -16.3, 0.9],
            [85, -14.6, 1.0], [88, -13.6, 1.0], [93, -13.3, 1.0], [97, -12.0, 1.0], [103, -11.5, 1.0],
            [108, -10.7, 1.0], [115, -9.5, 1.0], [120, -8.0, 1.0], [125, -8.0, 1.0], [130, -7.3, 1.0],
            [135, -6.7, 1.0], [140, -6.3, 1.0], [145, -5.8, 1.0], [149, -5.2, 1.0]],
    "sph": [[29, -26.8, 0.5], [30, -23.5, 0.6], [31, -22.3, 0.5], [33, -21.7, 0.4], [35, -21.3, 0.4],
            [40, -21.0, 0.4], [45, -20.6, 0.4], [50, -20.2, 0.4], [55, -20.0, 0.4], [60, -19.8, 0.4],
            [65, -19.6, 0.4], [70, -19.3, 0.4], [75, -18.9, 0.4], [80, -18.5, 0.4], [85, -18.4, 0.4],
            [90, -18.2, 0.4], [95, -17.7, 0.4], [100, -17.3, 0.4], [105, -16.9, 0.4], [110, -16.5, 0.4],
            [115, -16.5, 0.4], [120, -15.9, 0.4], [125, -15.4, 0.4], [130, -15.0, 0.4], [135, -14.5, 0.4],
            [140, -14.0, 0.4], [145, -13.6, 0.4], [149, -12.6, 0.4]],
    "rbf": [[29, -26.8, 0.5], [30, -22.5, 0.6], [32, -21.6, 0.5], [34, -21.2, 0.5], [40, -21.2, 0.5],
            [45, -20.8, 0.5], [50, -20.6, 0.5], [55, -20.4, 0.5], [60, -20.0, 0.5], [65, -19.6, 0.5],
            [70, -19.2, 0.5], [75, -18.5, 0.5], [80, -18.2, 0.5], [85, -17.7, 0.5], [90, -17.3, 0.5],
            [95, -16.9, 0.5], [100, -16.3, 0.5], [105, -15.9, 0.5], [110, -15.6, 0.5], [113, -14.8, 0.6],
            [117, -13.8, 0.6], [120, -13.4, 0.6], [125, -12.8, 0.6], [130, -12.3, 0.6], [135, -11.8, 0.6],
            [140, -11.4, 0.6], [144, -11.3, 0.6], [146, -10.3, 0.7], [149, -9.3, 0.7]],
}

SERIES = {"rover": ROVER, "lasso_dna": LASSO, "svm": SVM, "hartmann_emb": HARTMANN,
          "gpmix_a0": GPMIX0, "gpmix_a50": GPMIX50, "gpmix_a100": GPMIX100, "sphere100": SPHERE100,
          "sphere_t00": SPHERE_T00, "sphere_t50": SPHERE_T50, "sphere_t80": SPHERE_T80,
          "sphere_t100": SPHERE_T100}

YDOMAIN = {"rover": [-19.83, 2.14], "lasso_dna": [-0.4645, -0.2971], "svm": [-0.2482, -0.1151],
           "hartmann_emb": [0.1875, 3.444], "gpmix_a0": [-2.49, 8.77], "gpmix_a50": [-2.13, 10.54],
           "gpmix_a100": [-1.17, 13.93], "sphere100": [-11.97, -0.52], "sphere_t00": [-9.15, 0.27],
           "sphere_t50": [-14.7, -2.4], "sphere_t80": [-24.44, -0.36], "sphere_t100": [-33.49, 0.91]}
YTICKS = {"rover": [-15, -10, -5, 0],
          "lasso_dna": [-0.45, -0.425, -0.4, -0.375, -0.35, -0.325, -0.3],
          "svm": [-0.24, -0.22, -0.2, -0.18, -0.16, -0.14, -0.12],
          "hartmann_emb": [0.5, 1.0, 1.5, 2.0, 2.5, 3.0],
          "gpmix_a0": [-2, 0, 2, 4, 6, 8], "gpmix_a50": [-2, 0, 2, 4, 6, 8, 10],
          "gpmix_a100": [0, 2.5, 5, 7.5, 10, 12.5], "sphere100": [-10, -8, -6, -4, -2],
          "sphere_t00": [-8, -6, -4, -2, 0], "sphere_t50": [-14, -12, -10, -8, -6, -4],
          "sphere_t80": [-20, -15, -10, -5], "sphere_t100": [-30, -25, -20, -15, -10, -5, 0]}
YFORMAT = {"lasso_dna": ".3f", "svm": ".2f", "hartmann_emb": ".1f", "gpmix_a100": ".1f"}
XTICKS = [0, 50, 100, 150]
TITLE_OFFSET = {"lasso_dna": 7}
BAND_SUFFIX = " band"

rows = []
for p in PANELS:
    for s in PLOT_ORDER:
        if s not in SERIES[p]:
            continue
        for x, y, e in INIT[p] + SERIES[p][s]:
            rows.append({"panel": p, "series": NAMES[s], "band": NAMES[s] + BAND_SUFFIX,
                         "x": x, "y": y, "lo": y - e, "hi": y + e})
df = pd.DataFrame(rows)

dom = [NAMES[k] for k in LEGEND_ORDER]
rng = [COLORS[k] for k in LEGEND_ORDER]
line_scale = alt.Scale(domain=dom, range=rng)
band_scale = alt.Scale(domain=[n + BAND_SUFFIX for n in dom], range=rng)
legend = alt.Legend(orient="none", legendX=149, legendY=1160, columns=6, direction="horizontal",
                    title=None, symbolType="stroke", symbolSize=1600, symbolStrokeWidth=3.5,
                    symbolOpacity=1, labelFontSize=19, labelColor="#333333", labelLimit=600,
                    labelOffset=12, columnPadding=30, rowPadding=-17, padding=0)


def panel(p):
    d = df[df.panel == p]
    xenc = alt.X("x:Q", scale=alt.Scale(domain=[-7.45, 156.45], nice=False, zero=False),
                 axis=alt.Axis(values=XTICKS, format="d", title="evaluations"))
    ys = alt.Scale(domain=YDOMAIN[p], nice=False, zero=False)
    yax = alt.Axis(values=YTICKS[p], format=YFORMAT.get(p, "d"),
                   title="best observed value" if p == "rover" else "")
    band = alt.Chart(d).mark_area(interpolate="step-after", opacity=0.15, clip=True).encode(
        x=xenc, y=alt.Y("lo:Q", scale=ys, axis=yax), y2="hi:Q",
        fill=alt.Fill("band:N", scale=band_scale, legend=None))
    line = alt.Chart(d).mark_line(interpolate="step-after", strokeWidth=2.8, clip=True).encode(
        x=xenc, y=alt.Y("y:Q", scale=ys, axis=yax),
        stroke=alt.Stroke("series:N", scale=line_scale, legend=legend))
    return alt.layer(band, line).properties(
        width=381, height=289,
        title=alt.TitleParams(text=p, offset=TITLE_OFFSET.get(p, 11)))


chart = alt.concat(*[panel(p) for p in PANELS], columns=4,
                   spacing={"row": 107, "column": 110}, bounds="flush").properties(
    padding={"left": 9, "top": 5, "right": 2, "bottom": 10}
).configure(font="DejaVu Sans").configure_view(stroke=None).configure_axis(
    domainColor="#c8c6bc", domainWidth=1.5, tickColor="#c8c6bc", tickSize=7, tickWidth=1.2,
    gridColor="#e6e6e6", gridWidth=1, labelFontSize=18, labelColor="#555555", labelPadding=6,
    titleFontSize=19, titleColor="#333333", titleFontWeight="normal", labelFlush=False,
    labelOverlap=False, titlePadding=8
).configure_title(fontSize=19, fontWeight="normal", color="#222222",
                  baseline="alphabetic", anchor="middle")

chart.save("out.html", embed_options={"renderer": "svg", "actions": False})
